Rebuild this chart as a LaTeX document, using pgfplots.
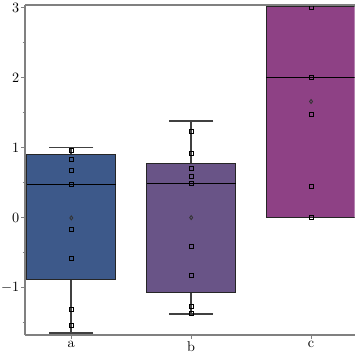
\documentclass[border=0pt]{standalone}
\usepackage{pgfplots}
\pgfplotsset{compat=1.18}
\usepgfplotslibrary{statistics}
\definecolor{ca}{RGB}{61,89,138}
\definecolor{cb}{RGB}{105,84,135}
\definecolor{cc}{RGB}{142,65,133}
\definecolor{axgray}{RGB}{128,128,128}
\begin{document}
\begin{tikzpicture}
\begin{axis}[scale only axis, width=232pt, height=232pt,
  xmin=-0.386, xmax=2.364, ymin=-1.67, ymax=3.04,
  axis x line*=bottom, axis y line*=left,
  axis line style={draw=axgray, line width=1pt},
  xtick={0,1,2}, xticklabels={a,b,c},
  ytick={-1,0,1,2,3}, minor ytick={-1.5,-0.5,0.5,1.5,2.5},
  tick align=outside, major tick length=2.8pt, minor tick length=1.6pt,
  tick style={axgray, line width=0.7pt},
  yticklabel style={inner sep=1pt},
  xticklabel style={inner sep=1.5pt},
  boxplot/draw direction=y,
  boxplot/every whisker/.style={draw=black!75, line width=1.2pt},
  boxplot/every median/.style={draw=black, line width=0.8pt},
  boxplot/every box/.style={draw=black!85, line width=0.8pt},
]
\addplot[fill=ca, boxplot prepared={draw position=0, lower whisker=-1.647, lower quartile=-0.876, median=0.477, upper quartile=0.906, upper whisker=1.006, box extend=0.744, whisker extend=0.37}] coordinates {};
\addplot[fill=cb, boxplot prepared={draw position=1, lower whisker=-1.371, lower quartile=-1.066, median=0.496, upper quartile=0.781, upper whisker=1.381, box extend=0.744, whisker extend=0.37}] coordinates {};
\addplot[fill=cc, boxplot prepared={draw position=2, lower whisker=0.005, lower quartile=0.005, median=2.006, upper quartile=3.02, upper whisker=3.006, box extend=0.744, whisker extend=0.37}] coordinates {};
% data points
\addplot[only marks, mark=square, mark size=1.4pt, mark options={draw=black, line width=0.6pt, fill=none}] coordinates {
(0,0.967) (0,0.834) (0,0.677) (0,0.477) (0,-0.166) (0,-0.580) (0,-1.309) (0,-1.537)
(1,1.234) (1,0.920) (1,0.706) (1,0.591) (1,0.491) (1,-0.409) (1,-0.823) (1,-1.266) (1,-1.366)
(2,3.006) (2,2.006) (2,1.477) (2,0.449) (2,0.005)
};
% means
\addplot[only marks, draw=black!80, mark=diamond, mark size=1.4pt, mark options={draw=black!80, line width=0.6pt, fill=none, solid}] coordinates {
(0,0.0) (1,0.005) (2,1.663)
};
\end{axis}
\draw[axgray, line width=1pt] (current axis.north west) -- (current axis.north east);
\pgfresetboundingbox
\path[use as bounding box] ([shift={(-17.6pt,-14.2pt)}]current axis.south west) rectangle ([shift={(0pt,3.6pt)}]current axis.north east);
\end{tikzpicture}
\end{document}
